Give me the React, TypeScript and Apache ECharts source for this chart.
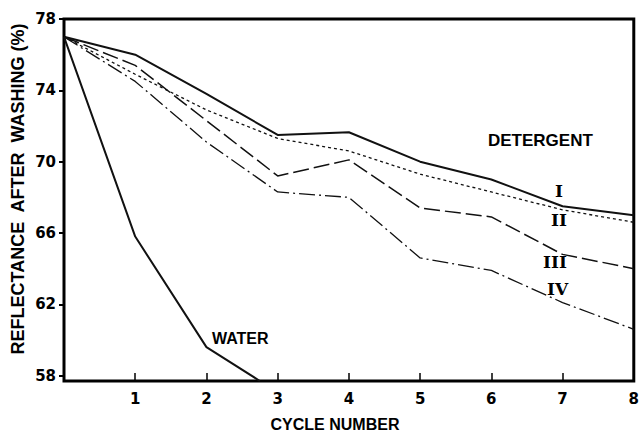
import React, { useEffect, useRef } from "react";
import * as echarts from "echarts";

const cycles = [0, 1, 2, 3, 4, 5, 6, 7, 8];
const detergentI = [77, 76.0, 73.8, 71.5, 71.65, 70.0, 69.0, 67.5, 67.0];
const detergentII = [77, 74.9, 72.9, 71.3, 70.6, 69.3, 68.3, 67.3, 66.6];
const detergentIII = [77, 75.4, 72.3, 69.2, 70.1, 67.4, 66.9, 64.8, 64.0];
const detergentIV = [77, 74.5, 71.1, 68.3, 68.0, 64.6, 63.9, 62.1, 60.6];
const waterX = [0, 1, 2, 2.75];
const waterY = [77, 65.8, 59.6, 57.7];
const yTicks = [58, 62, 66, 70, 74, 78];

const FONT = "DejaVu Sans";
const LFONT = "Liberation Sans";

export default function App() {
  const ref = useRef<HTMLDivElement>(null);
  useEffect(() => {
    if (!ref.current) return;
    const chart = echarts.init(ref.current, null, { renderer: "svg" });
    const pair = (xs: number[], ys: number[]) => xs.map((x, i) => [x, ys[i]]);
    const lineSeries = (name: string, data: number[][], width: number, type: any) => ({
      name,
      type: "line",
      data,
      symbol: "none",
      lineStyle: { color: "#111", width, type },
      clip: true,
    });
    chart.setOption({
      animation: false,
      backgroundColor: "#fff",
      grid: {
        left: 64,
        right: 4,
        top: 19,
        bottom: 52,
        show: true,
        borderColor: "#000",
        borderWidth: 3,
      },
      xAxis: {
        type: "value",
        min: 0,
        max: 8,
        interval: 1,
        splitLine: { show: false },
        axisLine: { show: false },
        axisTick: { show: true, inside: true, length: 8, lineStyle: { color: "#000", width: 1.5 } },
        axisLabel: {
          color: "#000",
          fontFamily: FONT,
          fontWeight: "bold",
          fontSize: 15,
          margin: 10,
          formatter: (v: number) => (v === 0 ? "" : String(v)),
        },
      },
      yAxis: {
        type: "value",
        min: 57.7,
        max: 78,
        splitLine: { show: false },
        axisLine: { show: false },
        axisTick: {
          show: true,
          inside: false,
          length: 5,
          customValues: yTicks,
          lineStyle: { color: "#000", width: 2 },
        },
        axisLabel: {
          color: "#000",
          fontFamily: FONT,
          fontWeight: "bold",
          fontSize: 15,
          margin: 8,
          customValues: yTicks,
        },
      },
      series: [
        lineSeries("I", pair(cycles, detergentI), 2, "solid"),
        lineSeries("II", pair(cycles, detergentII), 1.3, [3, 3]),
        lineSeries("III", pair(cycles, detergentIII), 1.5, [16, 5]),
        lineSeries("IV", pair(cycles, detergentIV), 1.3, [16, 4, 2, 4]),
        lineSeries("WATER", pair(waterX, waterY), 2, "solid"),
      ],
      graphic: [
        {
          type: "text",
          x: 335,
          y: 424,
          style: { text: "CYCLE NUMBER", fill: "#000", font: `bold 16px "${LFONT}"`, align: "center", verticalAlign: "middle" },
        },
        {
          type: "text",
          x: 18,
          y: 189,
          rotation: Math.PI / 2,
          style: {
            text: "REFLECTANCE  AFTER  WASHING (%)",
            fill: "#000",
            font: `bold 18px "${LFONT}"`,
            align: "center",
            verticalAlign: "middle",
          },
        },
        { type: "text", x: 488, y: 140, style: { text: "DETERGENT", fill: "#000", font: `bold 17px "${LFONT}"`, verticalAlign: "middle" } },
        { type: "text", x: 555, y: 191, style: { text: "I", fill: "#000", font: `bold 17px "DejaVu Serif"`, verticalAlign: "middle" } },
        { type: "text", x: 551, y: 220, style: { text: "II", fill: "#000", font: `bold 17px "DejaVu Serif"`, verticalAlign: "middle" } },
        { type: "text", x: 543, y: 262, style: { text: "III", fill: "#000", font: `bold 17px "DejaVu Serif"`, verticalAlign: "middle" } },
        { type: "text", x: 547, y: 289, style: { text: "IV", fill: "#000", font: `bold 17px "DejaVu Serif"`, verticalAlign: "middle" } },
        { type: "text", x: 212, y: 338, style: { text: "WATER", fill: "#000", font: `bold 16px "${LFONT}"`, verticalAlign: "middle" } },
      ],
    });
    return () => chart.dispose();
  }, []);
  return <div ref={ref} style={{ width: 642, height: 433, position: "absolute", left: 0, top: 0 }} />;
}
